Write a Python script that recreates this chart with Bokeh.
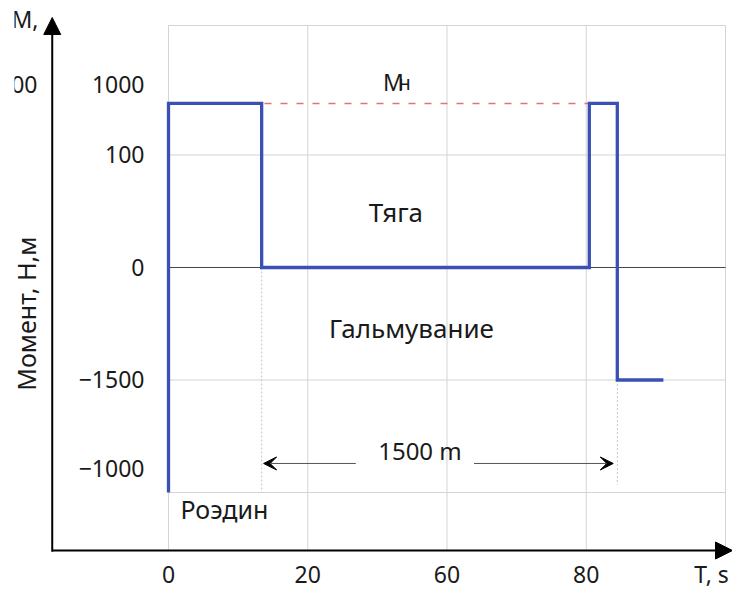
import math
from bokeh.plotting import figure
from bokeh.models import FixedTicker, Arrow, NormalHead, VeeHead, Range1d
from bokeh.embed import file_html
from bokeh.resources import INLINE
from bokeh.core.properties import value

# ---- schematic data (grid-index units) ----
x_tick_pos = [0, 1, 2, 3, 3.90]
x_tick_labels = ["0", "20", "60", "80", "T, s"]
y_tick_pos = [1.627, 1, 0, -1, -1.787]
y_tick_labels = ["1000", "100", "0", "\u22121500", "\u22121000"]
x_grid = [0, 1, 2, 3, 4]
y_grid = [2.151, 1, -1, -2]
x_lo, x_hi = 0, 4            # chart box (grid extent)
y_lo, y_hi = -2.5156, 2.151

# torque profile (step line)
t = [0, 0, 0.669, 0.669, 3.022, 3.022, 3.223, 3.223, 3.554]
m = [-2, 1.458, 1.458, 0, 0, 1.458, 1.458, -1, -1]
m_nom = 1.458

# distance marker
dist_y = -1.742
dist_left = [1.345, 0.683]
dist_right = [2.194, 3.194]

# coordinate axes location
axis_x = -0.835
axis_y = -2.5156

FONT = "Noto Sans"
TXT = "#1a1a1a"

p = figure(width=732, height=593, output_backend="svg", toolbar_location=None,
           x_range=Range1d(-1.2065, 4.0503), y_range=Range1d(-2.8978, 2.3733),
           min_border=0)
p.outline_line_color = None
p.background_fill_color = "white"
p.border_fill_color = "white"
p.xgrid.visible = False
p.ygrid.visible = False

# axes: labels only, placed inside the canvas
for ax in (p.xaxis[0], p.yaxis[0]):
    ax.axis_line_color = None
    ax.major_tick_line_color = None
    ax.minor_tick_line_color = None
    ax.major_label_text_font = FONT
    ax.major_label_text_font_size = "23px"
    ax.major_label_text_color = TXT
p.xaxis.ticker = FixedTicker(ticks=x_tick_pos)
p.xaxis.major_label_overrides = {k: v for k, v in zip(x_tick_pos, x_tick_labels)}
p.xaxis.major_label_standoff = 1
p.xaxis.fixed_location = axis_y
p.yaxis.ticker = FixedTicker(ticks=y_tick_pos)
p.yaxis.major_label_overrides = {k: v for k, v in zip(y_tick_pos, y_tick_labels)}
p.yaxis.major_label_standoff = 18
p.yaxis.fixed_location = 0

# grid lines of the chart box
p.segment(x0=x_grid, y0=[y_lo] * len(x_grid), x1=x_grid, y1=[y_hi] * len(x_grid),
          line_color="#d4d4d4", line_width=1)
p.segment(x0=[x_lo] * len(y_grid), y0=y_grid, x1=[x_hi] * len(y_grid), y1=y_grid,
          line_color="#d4d4d4", line_width=1)
# zero line
p.line([x_lo, x_hi], [0, 0], line_color="#444444", line_width=1)

# nominal torque dashed line
p.line([t[1], t[4]], [m_nom, m_nom], line_color="#e5707c", line_width=1.5, line_dash="7 9")

# dotted guide verticals
p.segment(x0=[t[2], t[6]], y0=[m[3], m[7]], x1=[t[2], t[6]], y1=[-2.0, -1.93],
          line_color="#c4c4c4", line_width=1, line_dash="2 2")

# torque profile
p.line(t, m, line_color="#3a50b4", line_width=3.3, line_join="miter")

# texts
def txt(x, y, s, size, align="left", baseline="alphabetic", angle=0.0):
    p.text(x=[x], y=[y], text=[s], text_font=value(FONT), text_font_size=size,
           text_baseline=baseline, text_align=align, text_color=TXT, angle=angle)

txt(1.540, 1.646, "М", "23px")
txt(1.652, 1.646, "н", "20px")
txt(1.633, 0.495, "Тяга", "26px", align="center")
txt(1.745, -0.540, "Гальмувание", "26px", align="center")
txt(0.086, -2.150, "Роэдин", "25px")
txt(1.806, dist_y + 0.115, "1500 m", "24px", align="center")
# axis title
txt(-1.021, -0.41, "Момент, Н,м", "25px", align="center", baseline="middle", angle=math.pi / 2)
# cut-off fragments at the left edge
txt(-1.128, 2.207, "М,", "23px")
txt(-0.941, 1.627, "00", "23px", align="right")
p.quad(left=[-1.25], right=[-1.106], bottom=[1.2], top=[2.4], fill_color="white",
       line_color=None)

# distance arrows
for xs, xe in (dist_left, dist_right):
    p.add_layout(Arrow(end=VeeHead(size=13, fill_color="black", line_color="black"),
                       x_start=xs, y_start=dist_y, x_end=xe, y_end=dist_y,
                       line_color="#555555", line_width=1))

# black coordinate axes with arrowheads
p.add_layout(Arrow(end=NormalHead(size=17, fill_color="black", line_color="black"),
                   x_start=axis_x, y_start=axis_y - 0.01, x_end=axis_x, y_end=2.222,
                   line_color="black", line_width=2))
p.add_layout(Arrow(end=NormalHead(size=17, fill_color="black", line_color="black"),
                   x_start=axis_x, y_start=axis_y, x_end=4.0503, y_end=axis_y,
                   line_color="black", line_width=2))

open("out.html", "w").write(file_html(p, INLINE))
